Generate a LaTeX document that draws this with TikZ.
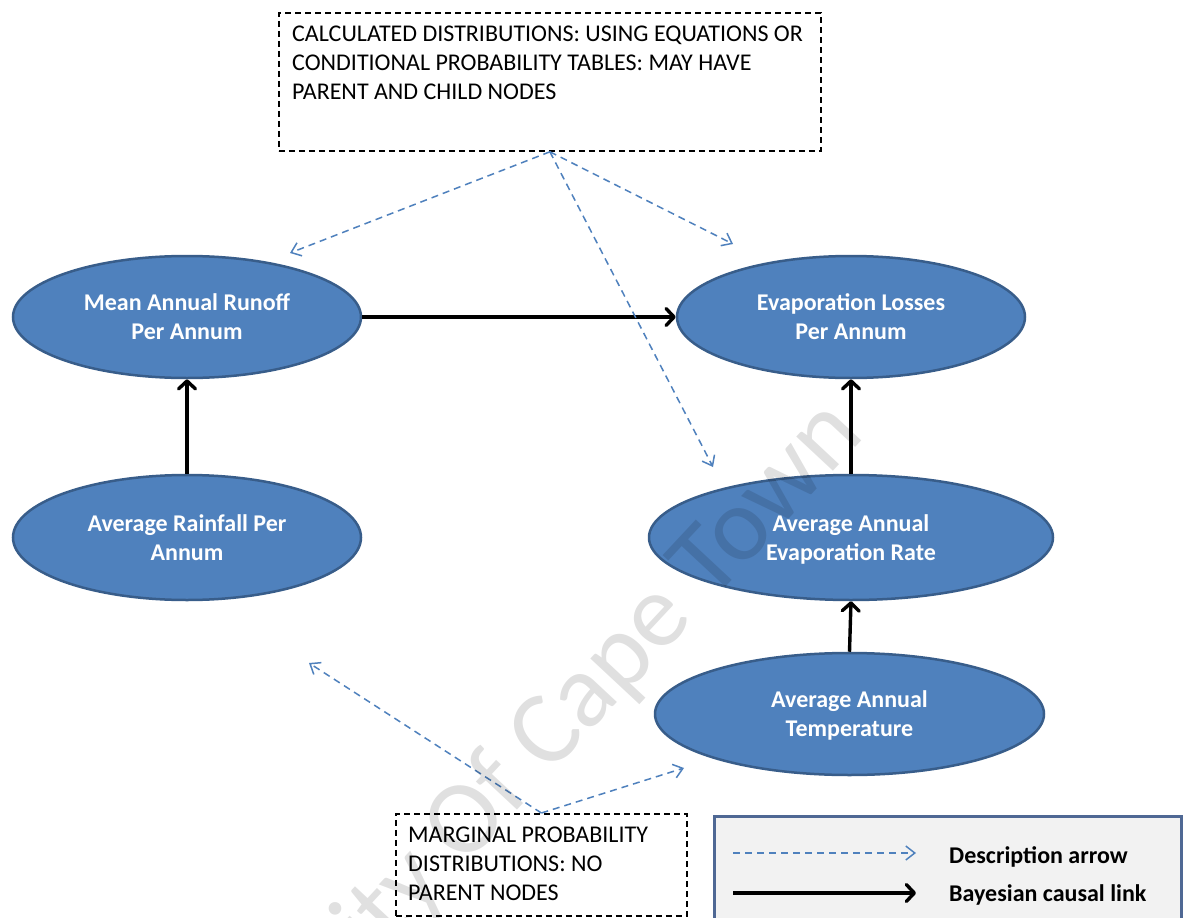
\documentclass[tikz,border=0pt]{standalone}
\usepackage{fontspec}
\setmainfont{Carlito}
\usetikzlibrary{shapes.geometric,arrows.meta}

\definecolor{nodefill}{RGB}{79,129,189}
\definecolor{nodeline}{RGB}{56,93,138}
\definecolor{descblue}{RGB}{79,129,189}
\definecolor{legendfill}{RGB}{242,242,242}
\definecolor{legendline}{RGB}{79,104,148}

\tikzset{
  varnode/.style={ellipse, fill=nodefill, draw=nodeline, line width=2.5pt,
    text=white, font=\bfseries\fontsize{24}{29}\selectfont, align=center, inner sep=0pt,
    text depth=0pt},
  causal/.style={line width=3.4pt, -{Straight Barb[length=8pt,width=17pt,round]}},
  describe/.style={descblue, line width=1.5pt, dash pattern=on 7pt off 5pt,
    -{Straight Barb[length=9pt,width=14pt]}},
  notebox/.style={draw, line width=1.8pt, dash pattern=on 6pt off 4pt, inner sep=0pt,
    anchor=north west},
  notetext/.style={font=\fontsize{24}{29}\selectfont, align=left, inner sep=0pt,
    anchor=north west},
  legendtext/.style={font=\bfseries\fontsize{24}{29}\selectfont, inner sep=0pt,
    anchor=base west},
}

\begin{document}
\begin{tikzpicture}[x=1pt,y=-1pt]
\useasboundingbox (0,0) rectangle (1184,918);
\clip (0,0) rectangle (1184,918);
\fill[white] (0,0) rectangle (1184,918);

% variables of the network
\node[varnode, minimum width=348pt, minimum height=122pt] (runoff) at (187,317) {Mean Annual Runoff\\Per Annum};
\node[varnode, minimum width=348pt, minimum height=125pt] (rain) at (187,537.5) {Average Rainfall Per\\Annum};
\node[varnode, minimum width=348pt, minimum height=122pt] (loss) at (851,317) {Evaporation Losses\\Per Annum};
\node[varnode, minimum width=404pt, minimum height=125pt] (rate) at (851,537.5) {Average Annual\\Evaporation Rate};
\node[varnode, minimum width=389pt, minimum height=122pt] (temp) at (849.5,714) {Average Annual\\Temperature};

% causal links
\draw[causal] (runoff.east) -- (loss.west);
\draw[causal] (rain.north) -- (runoff.south);
\draw[causal] (rate.north) -- (loss.south);
\draw[causal] (temp.north) -- (rate.south);

% explanatory notes
\node[notebox, minimum width=542pt, minimum height=138pt] (calc) at (278,12) {};
\node[notetext] (calctext) at (292,26) {CALCULATED DISTRIBUTIONS: USING EQUATIONS OR\\CONDITIONAL PROBABILITY TABLES: MAY HAVE\\PARENT AND CHILD NODES};
\node[notebox, minimum width=291pt, minimum height=102pt] (marg) at (395,813) {};
\node[notetext] (margtext) at (408,827) {MARGINAL PROBABILITY\\DISTRIBUTIONS: NO\\PARENT NODES};

% description arrows
\coordinate (d1) at (290,253);
\coordinate (d2) at (733,244);
\coordinate (d3) at (713,467);
\coordinate (d4) at (309,663);
\coordinate (d5) at (684,768);
\draw[describe] (calc.south) -- (d1);
\draw[describe] (calc.south) -- (d2);
\draw[describe] (calc.south) -- (d3);
\draw[describe] (marg.north) -- (d4);
\draw[describe] (marg.north) -- (d5);

% legend
\node[draw=legendline, fill=legendfill, line width=2.5pt, minimum width=467pt,
  minimum height=120pt, anchor=north west, inner sep=0pt] (legend) at (713,815) {};
\coordinate (la1) at (733,853);
\coordinate (la2) at (916,853);
\coordinate (lb1) at (733,893);
\coordinate (lb2) at (916,893);
\draw[describe] (la1) -- (la2);
\draw[causal] (lb1) -- (lb2);
\node[legendtext] (ldesc) at (949,863) {Description arrow};
\node[legendtext] (lcausal) at (949,901) {Bayesian causal link};

% watermark
\node[rotate=47, anchor=base west, inner sep=0pt, font=\fontsize{105}{105}\selectfont,
  text=black, opacity=0.12] (mark) at (375,963) {ity Of Cape Town};
\end{tikzpicture}
\end{document}
